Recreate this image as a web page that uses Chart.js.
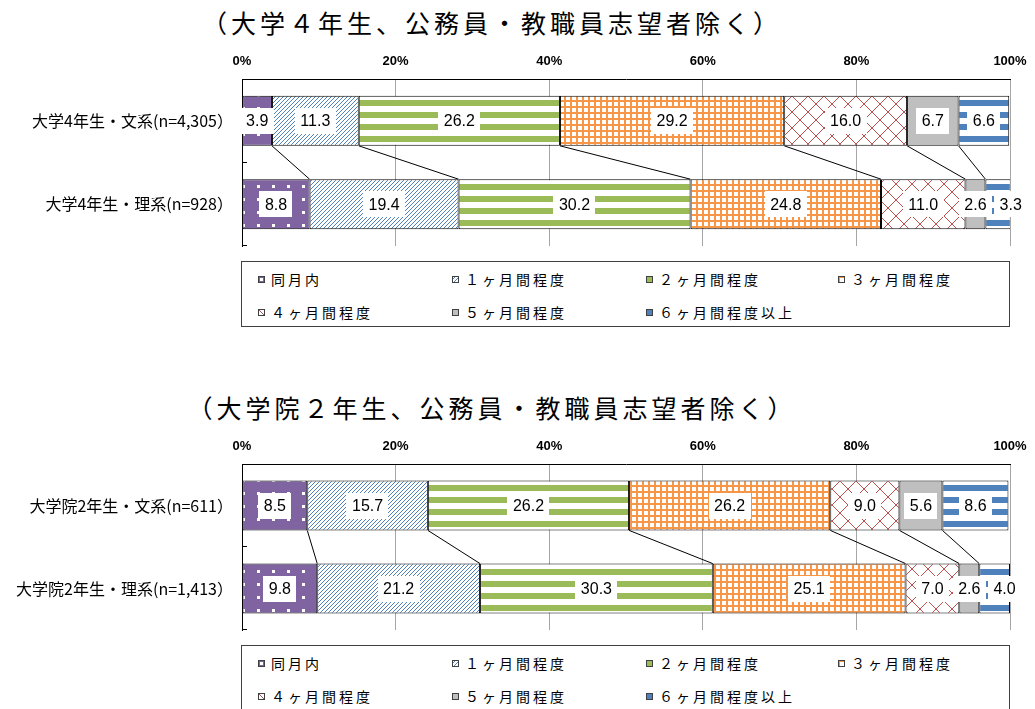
<!DOCTYPE html>
<html>
<head>
<meta charset="utf-8">
<script src="https://cdn.jsdelivr.net/npm/chart.js@4.4.1/dist/chart.umd.min.js"></script>
<style>
	body {
		margin: 0;
		background: #fff;
		width: 1035px;
		height: 709px;
		overflow: hidden;
		position: relative;
		font-family: "Noto Sans CJK JP", sans-serif;
		color: #000;
	}

	.title {
		position: absolute;
		left: 0;
		width: 984px;
		text-align: center;
		font-size: 25px;
		letter-spacing: 4px;
		line-height: 30px;
	}

	.wrap {
		position: absolute;
		left: 0;
		width: 1035px;
	}

	.legend {
		position: absolute;
		left: 241px;
		width: 769px;
		height: 66px;
		box-sizing: border-box;
		border: 1px solid #404040;
		font-size: 14px;
		letter-spacing: 3px;
	}

	.item {
		position: absolute;
		height: 20px;
		line-height: 20px;
		display: flex;
		align-items: center;
		white-space: nowrap;
	}

	.item canvas {
		margin-right: 6px;
	}
</style>
</head>
<body>

<div class="title" style="top:7px">（大学４年生、公務員・教職員志望者除く）</div>
<div class="wrap" style="top:40px"><canvas id="chartUniv" width="1035" height="214"></canvas></div>
<div class="legend" id="legendUniv" style="top:261px"></div>

<div class="title" style="top:392px">（大学院２年生、公務員・教職員志望者除く）</div>
<div class="wrap" style="top:425px"><canvas id="chartGrad" width="1035" height="213"></canvas></div>
<div class="legend" id="legendGrad" style="top:645px"></div>

<script>
	// categories and values (%)
	const univLabels = ['大学4年生・文系(n=4,305）', '大学4年生・理系(n=928）'];
	const gradLabels = ['大学院2年生・文系(n=611）', '大学院2年生・理系(n=1,413）'];

	const seriesNames = ['同月内', '１ヶ月間程度', '２ヶ月間程度', '３ヶ月間程度', '４ヶ月間程度', '５ヶ月間程度', '６ヶ月間程度以上'];

	const univHumanities = [3.9, 11.3, 26.2, 29.2, 16.0, 6.7, 6.6];
	const univScience = [8.8, 19.4, 30.2, 24.8, 11.0, 2.6, 3.3];
	const gradHumanities = [8.5, 15.7, 26.2, 26.2, 9.0, 5.6, 8.6];
	const gradScience = [9.8, 21.2, 30.3, 25.1, 7.0, 2.6, 4.0];

	const xTickStep = 20;

	// pattern fills
	function makeTile(w, h, draw) {
		const c = document.createElement('canvas');
		c.width = w;
		c.height = h;
		const g = c.getContext('2d');
		draw(g, w, h);
		return c;
	}

	const tiles = [
		makeTile(15, 13, function (g) {
			g.fillStyle = '#8064A2';
			g.fillRect(0, 0, 15, 13);
			g.fillStyle = '#fff';
			g.fillRect(2, 2, 3, 3);
		}),
		makeTile(4, 4, function (g) {
			g.fillStyle = '#fff';
			g.fillRect(0, 0, 4, 4);
			g.fillStyle = '#4F81BD';
			for (let i = 0; i < 4; i++) g.fillRect(3 - i, i, 1, 1);
		}),
		makeTile(12, 12, function (g) {
			g.fillStyle = '#fff';
			g.fillRect(0, 0, 12, 12);
			g.fillStyle = '#9BBB59';
			g.fillRect(0, 0, 12, 6);
		}),
		makeTile(6, 6, function (g) {
			g.fillStyle = '#fff';
			g.fillRect(0, 0, 6, 6);
			g.fillStyle = '#F79646';
			g.fillRect(0, 0, 6, 2);
			g.fillRect(0, 0, 2, 6);
		}),
		makeTile(16, 16, function (g) {
			g.fillStyle = '#fff';
			g.fillRect(0, 0, 16, 16);
			g.fillStyle = '#C0504D';
			for (let i = 0; i < 16; i++) {
				g.fillRect(i, i, 1, 1);
				g.fillRect(15 - i, i, 1, 1);
			}
		}),
		makeTile(4, 4, function (g) {
			g.fillStyle = '#BFBFBF';
			g.fillRect(0, 0, 4, 4);
		}),
		makeTile(12, 12, function (g) {
			g.fillStyle = '#fff';
			g.fillRect(0, 0, 12, 12);
			g.fillStyle = '#4F81BD';
			g.fillRect(0, 0, 12, 6);
		})
	];

	const patternCtx = document.createElement('canvas').getContext('2d');
	const fills = tiles.map(function (t) { return patternCtx.createPattern(t, 'repeat'); });

	Chart.defaults.font.family = '"Noto Sans CJK JP", sans-serif';
	Chart.defaults.color = '#000';

	// lines joining the cumulative edges of the two bars, plus small inner axis ticks
	const seriesLines = {
		id: 'seriesLines',
		afterDatasetsDraw: function (chart) {
			const ctx = chart.ctx;
			const count = chart.data.datasets.length;
			ctx.save();
			ctx.strokeStyle = '#000';
			ctx.lineWidth = 1;
			ctx.beginPath();
			for (let i = 0; i < count - 1; i++) {
				const a = chart.getDatasetMeta(i).data[0];
				const b = chart.getDatasetMeta(i).data[1];
				ctx.moveTo(a.x, a.y + a.height / 2);
				ctx.lineTo(b.x, b.y - b.height / 2);
			}
			ctx.stroke();

			const yScale = chart.scales.y;
			const band = (yScale.bottom - yScale.top) / chart.data.labels.length;
			ctx.beginPath();
			for (let j = 0; j < chart.data.labels.length; j++) {
				const yy = Math.round(yScale.getPixelForValue(j) + band / 2) - 0.5;
				ctx.moveTo(yScale.right, yy);
				ctx.lineTo(yScale.right + 5, yy);
			}
			ctx.stroke();
			ctx.restore();
		}
	};

	// value labels in white boxes, pushed right when they would overlap
	const boxLabels = {
		id: 'boxLabels',
		afterDatasetsDraw: function (chart) {
			const ctx = chart.ctx;
			ctx.save();
			ctx.font = '16px "Liberation Sans", Arial, sans-serif';
			ctx.textAlign = 'center';
			ctx.textBaseline = 'middle';
			for (let j = 0; j < chart.data.labels.length; j++) {
				let prevRight = -Infinity;
				chart.data.datasets.forEach(function (ds, i) {
					const el = chart.getDatasetMeta(i).data[j];
					const txt = ds.data[j].toFixed(1);
					const w = ctx.measureText(txt).width + 11;
					let cx = (el.base + el.x) / 2;
					if (cx - w / 2 < prevRight + 2) cx = prevRight + 2 + w / 2;
					ctx.fillStyle = '#fff';
					ctx.fillRect(Math.round(cx - w / 2), Math.round(el.y - 13), Math.round(w), 26);
					ctx.fillStyle = '#000';
					ctx.fillText(txt, cx, el.y + 1);
					prevRight = cx + w / 2;
				});
			}
			ctx.restore();
		}
	};

	function buildChart(canvasId, labels, rowA, rowB) {
		const datasets = seriesNames.map(function (name, i) {
			return {
				label: name,
				data: [rowA[i], rowB[i]],
				backgroundColor: fills[i]
			};
		});

		return new Chart(document.getElementById(canvasId), {
			type: 'bar',
			data: { labels: labels, datasets: datasets },
			options: {
				indexAxis: 'y',
				responsive: false,
				animation: false,
				layout: { padding: { left: 0, right: 25, top: 0, bottom: 8 } },
				datasets: {
					bar: {
						categoryPercentage: 1,
						barPercentage: 0.6,
						borderColor: '#000',
						borderWidth: 1,
						borderSkipped: false
					}
				},
				plugins: {
					legend: { display: false },
					title: { display: false },
					tooltip: { enabled: false }
				},
				scales: {
					x: {
						position: 'top',
						stacked: true,
						min: 0,
						max: 100,
						ticks: {
							stepSize: xTickStep,
							padding: 10,
							color: '#000',
							font: { family: '"Liberation Sans", Arial, sans-serif', size: 13, weight: 'bold' },
							callback: function (v) { return v + '%'; }
						},
						grid: { color: '#A6A6A6', drawTicks: false },
						border: { color: '#000' },
						afterFit: function (s) {
							s.height = 39;
							s.paddingLeft = 0;
							s.paddingRight = 0;
						}
					},
					y: {
						stacked: true,
						ticks: { padding: 9, color: '#000', font: { size: 16 } },
						grid: { display: false, drawTicks: false },
						border: { color: '#000' },
						afterFit: function (s) {
							s.width = 242;
							s.paddingTop = 0;
							s.paddingBottom = 0;
						}
					}
				}
			},
			plugins: [seriesLines, boxLabels]
		});
	}

	buildChart('chartUniv', univLabels, univHumanities, univScience);
	buildChart('chartGrad', gradLabels, gradHumanities, gradScience);

	// html legends with small pattern swatches
	const legendCols = [16, 210, 404, 596];
	const legendRows = [18, 51];

	function buildLegend(id) {
		const box = document.getElementById(id);
		seriesNames.forEach(function (name, i) {
			const item = document.createElement('div');
			item.className = 'item';
			item.style.left = legendCols[i % 4] + 'px';
			item.style.top = (legendRows[Math.floor(i / 4)] - 11) + 'px';
			const sw = document.createElement('canvas');
			sw.width = 7;
			sw.height = 7;
			const g = sw.getContext('2d');
			g.fillStyle = fills[i];
			g.fillRect(0, 0, 7, 7);
			g.strokeStyle = '#404040';
			g.strokeRect(0.5, 0.5, 6, 6);
			item.appendChild(sw);
			item.appendChild(document.createTextNode(name));
			box.appendChild(item);
		});
	}

	buildLegend('legendUniv');
	buildLegend('legendGrad');
</script>
</body>
</html>
